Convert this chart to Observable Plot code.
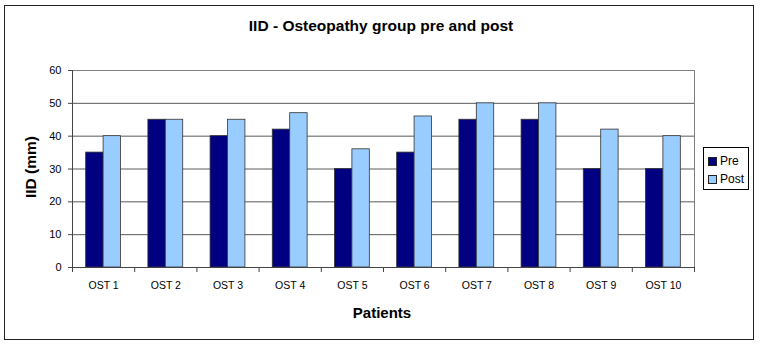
<!DOCTYPE html>
<html>
<head>
<meta charset="utf-8">
<script src="https://cdn.jsdelivr.net/npm/d3@7"></script>
<script src="https://cdn.jsdelivr.net/npm/@observablehq/plot@0.6"></script>
<style>
  html, body { margin: 0; padding: 0; background: #fff; }
  #wrap { position: relative; width: 760px; height: 351px; font-family: "Liberation Sans", Arial, sans-serif; color: #000; }
  #wrap svg { position: absolute; left: 0; top: 0; }
  .border { position: absolute; left: 4px; top: 5px; width: 750px; height: 335px; border: 1.5px solid #222; box-sizing: border-box; pointer-events: none; }
  .title { position: absolute; left: 0; width: 762px; top: 17px; text-align: center; font-weight: bold; font-size: 15.5px; }
  .xlabel { position: absolute; left: 302px; width: 160px; top: 304px; text-align: center; font-weight: bold; font-size: 15px; }
  .ylabel { position: absolute; left: 31px; top: 167px; transform: translate(-50%, -50%) rotate(-90deg); font-weight: bold; font-size: 15.5px; white-space: nowrap; }
  .legend { position: absolute; left: 703px; top: 147px; width: 46px; height: 43px; border: 1px solid #000; box-sizing: border-box; font-size: 12px; padding: 4px 0 0 4px; }
  .legend div { display: flex; align-items: center; height: 18px; }
  .legend span.sw { display: inline-block; width: 7px; height: 7px; border: 1px solid #222; margin-right: 3px; }
</style>
</head>
<body>
<div id="wrap"></div>
<script>
const patients = ["OST 1","OST 2","OST 3","OST 4","OST 5","OST 6","OST 7","OST 8","OST 9","OST 10"];
const pre  = [35, 45, 40, 42, 30, 35, 45, 45, 30, 30];
const post = [40, 45, 45, 47, 36, 46, 50, 50, 42, 40];
const series = ["Pre", "Post"];
const colors = ["#000080", "#99CCFF"];
const yTicks = [0, 10, 20, 30, 40, 50, 60];

const rows = [];
patients.forEach((p, i) => {
  rows.push({i, patient: p, group: "Pre", value: pre[i]});
  rows.push({i, patient: p, group: "Post", value: post[i]});
});

// group occupies the middle of each category slot
const groupStart = 0.22, barW = 0.28;
const x1 = d => d.i + groupStart + series.indexOf(d.group) * barW;
const x2 = d => x1(d) + barW;

const chart = Plot.plot({
  width: 760,
  height: 351,
  marginLeft: 72,
  marginRight: 66,
  marginTop: 70,
  marginBottom: 84,
  style: {fontFamily: '"Liberation Sans", Arial, sans-serif', background: "transparent", color: "#000"},
  x: {domain: [0, patients.length], axis: null},
  y: {domain: [0, 60], axis: null},
  color: {domain: series, range: colors},
  marks: [
    Plot.gridY(yTicks, {stroke: "#5a5a5a", strokeOpacity: 1, strokeWidth: 1}),
    Plot.frame({stroke: "#808080"}),
    Plot.rectY(rows, {x1, x2, y: "value", fill: "group", stroke: "#333", strokeWidth: 0.8}),
    Plot.ruleX([0], {stroke: "#444"}),
    Plot.ruleY([0], {stroke: "#444"}),
    Plot.axisY({ticks: yTicks, tickSize: 4, tickPadding: 7, fontSize: 11, stroke: "#444", label: null}),
    Plot.axisX({ticks: d3.range(0, patients.length + 1), tickSize: 5, tickFormat: () => "", stroke: "#444", label: null}),
    Plot.axisX({ticks: d3.range(patients.length).map(i => i + 0.5), tickSize: 0, tickPadding: 14, fontSize: 10.5,
      tickFormat: v => patients[Math.floor(v)], label: null})
  ]
});

const wrap = document.getElementById("wrap");
wrap.appendChild(chart);
wrap.insertAdjacentHTML("beforeend", `
  <div class="title">IID - Osteopathy group pre and post</div>
  <div class="ylabel">IID (mm)</div>
  <div class="xlabel">Patients</div>
  <div class="legend">
    ${series.map((s, k) => `<div><span class="sw" style="background:${colors[k]}"></span>${s}</div>`).join("")}
  </div>
  <div class="border"></div>
`);
</script>
</body>
</html>
